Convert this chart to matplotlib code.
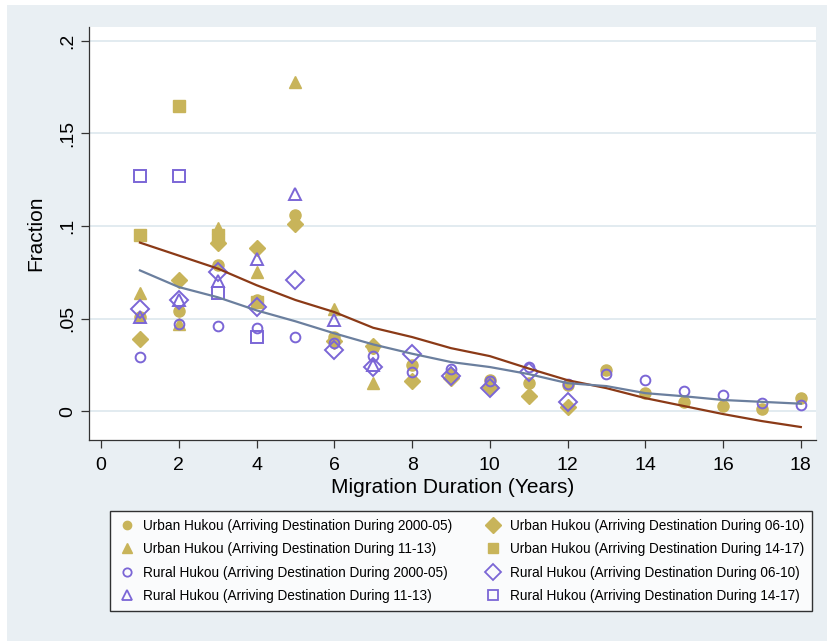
import matplotlib.pyplot as plt
from matplotlib.lines import Line2D
from matplotlib.patches import Rectangle

plt.rcParams['font.family'] = ['Liberation Sans', 'DejaVu Sans']

# values
years_0005 = list(range(1, 19))
urban_0005 = [0.051, 0.054, 0.079, 0.060, 0.106, 0.040, 0.034, 0.025, 0.020,
              0.017, 0.015, 0.014, 0.022, 0.010, 0.005, 0.003, 0.001, 0.007]
rural_0005 = [0.029, 0.047, 0.046, 0.045, 0.040, 0.037, 0.030, 0.021, 0.023,
              0.016, 0.024, 0.0145, 0.020, 0.017, 0.011, 0.0087, 0.0045, 0.0035]

years_0610 = list(range(1, 13))
urban_0610 = [0.039, 0.071, 0.091, 0.088, 0.101, 0.038, 0.035, 0.016, 0.018,
              0.013, 0.008, 0.002]
rural_0610 = [0.055, 0.060, 0.075, 0.056, 0.071, 0.033, 0.024, 0.031, 0.019,
              0.0125, 0.021, 0.005]

years_1113 = list(range(1, 8))
urban_1113 = [0.064, 0.047, 0.099, 0.075, 0.178, 0.055, 0.015]
rural_1113 = [0.051, 0.060, 0.070, 0.082, 0.117, 0.049, 0.025]

years_1417 = [1, 2, 3, 4]
urban_1417 = [0.095, 0.165, 0.095, 0.059]
rural_1417 = [0.127, 0.127, 0.064, 0.040]

# fitted curves
fit_years = list(range(1, 19))
urban_fit = [0.091, 0.084, 0.077, 0.068, 0.060, 0.0535, 0.045, 0.040, 0.034,
             0.0297, 0.023, 0.0167, 0.0124, 0.007, 0.0027, -0.0016, -0.0054, -0.0086]
rural_fit = [0.076, 0.067, 0.0615, 0.0544, 0.0485, 0.042, 0.036, 0.031, 0.0265,
             0.0238, 0.020, 0.0151, 0.0135, 0.0097, 0.008, 0.006, 0.005, 0.004]

gold = '#c8b45a'
purple = '#7b66d6'

fig = plt.figure(figsize=(8.28, 6.41), dpi=100, facecolor='white')
# light grey graph region with a thin white margin at left and top
fig.patches.append(Rectangle((7 / 828, 0), 1, 1 - 5 / 641, transform=fig.transFigure,
                             facecolor='#e9eff3', edgecolor='none', zorder=-1))

ax = fig.add_axes([0.1075, 0.3136, 0.878, 0.6444])
ax.set_facecolor('white')

ax.plot(years_0005, urban_0005, 'o', color=gold, ms=8, mec=gold)
ax.plot(years_0610, urban_0610, 'D', color=gold, ms=8.5, mec=gold)
ax.plot(years_1113, urban_1113, '^', color=gold, ms=8.5, mec=gold)
ax.plot(years_1417, urban_1417, 's', color=gold, ms=8.5, mec=gold)

ax.plot(years_0005, rural_0005, 'o', mfc='none', mec=purple, ms=7, mew=1.4)
ax.plot(years_0610, rural_0610, 'D', mfc='none', mec=purple, ms=9, mew=1.4)
ax.plot(years_1113, rural_1113, '^', mfc='none', mec=purple, ms=8.5, mew=1.4)
ax.plot(years_1417, rural_1417, 's', mfc='none', mec=purple, ms=8.5, mew=1.4)

ax.plot(fit_years, urban_fit, color='#8b3a17', lw=1.6)
ax.plot(fit_years, rural_fit, color='#6b7f9e', lw=1.6)

ax.set_xlim(-0.31, 18.39)
ax.set_ylim(-0.0156, 0.2075)
ax.set_xticks(range(0, 19, 2))
ax.set_yticks([0, 0.05, 0.1, 0.15, 0.2])
ax.set_yticklabels(['0', '.05', '.1', '.15', '.2'], rotation=90, va='center')
ax.tick_params(labelsize=14, length=6, width=0.9, color='#333333')
ax.tick_params(axis='x', pad=6)
ax.grid(axis='y', color='#dde7ee', lw=1.2)
ax.set_axisbelow(True)
for s in ['top', 'right']:
    ax.spines[s].set_visible(False)
for s in ['left', 'bottom']:
    ax.spines[s].set_color('#333333')
    ax.spines[s].set_linewidth(0.9)

ax.set_xlabel('Migration Duration (Years)', fontsize=15, labelpad=3)
ax.set_ylabel('Fraction', fontsize=15, labelpad=10)

labels = ['Urban Hukou (Arriving Destination During 2000-05)',
          'Urban Hukou (Arriving Destination During 11-13)',
          'Rural Hukou (Arriving Destination During 2000-05)',
          'Rural Hukou (Arriving Destination During 11-13)',
          'Urban Hukou (Arriving Destination During 06-10)',
          'Urban Hukou (Arriving Destination During 14-17)',
          'Rural Hukou (Arriving Destination During 06-10)',
          'Rural Hukou (Arriving Destination During 14-17)']
handles = [
    Line2D([], [], ls='none', marker='o', color=gold, ms=6),
    Line2D([], [], ls='none', marker='^', color=gold, ms=7),
    Line2D([], [], ls='none', marker='o', mfc='none', mec=purple, ms=6, mew=1.3),
    Line2D([], [], ls='none', marker='^', mfc='none', mec=purple, ms=7, mew=1.3),
    Line2D([], [], ls='none', marker='D', color=gold, ms=8),
    Line2D([], [], ls='none', marker='s', color=gold, ms=7),
    Line2D([], [], ls='none', marker='D', mfc='none', mec=purple, ms=8, mew=1.3),
    Line2D([], [], ls='none', marker='s', mfc='none', mec=purple, ms=7, mew=1.3),
]
leg = fig.legend(handles, labels, ncol=2, loc='center',
                 bbox_to_anchor=(0.557, 0.125), fontsize=9.8, frameon=True,
                 fancybox=False, edgecolor='black', handletextpad=0.6,
                 columnspacing=2.4, labelspacing=0.68, borderpad=0.6,
                 handlelength=1.2)
leg.get_frame().set_linewidth(1.0)

fig.savefig('out.png', dpi=100, facecolor=fig.get_facecolor())
